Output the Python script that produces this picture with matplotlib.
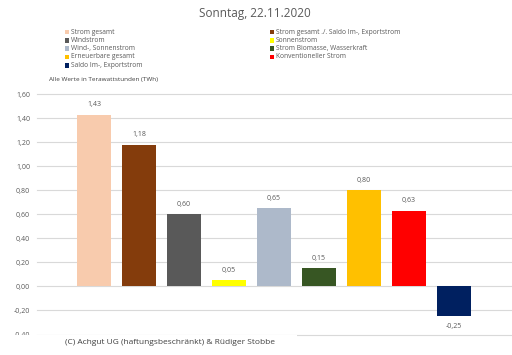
import matplotlib
matplotlib.use("Agg")
import matplotlib.pyplot as plt
from matplotlib.patches import Rectangle

plt.rcParams["font.family"] = ["Open Sans", "DejaVu Sans"]

GREY = "#595959"
GRID = "#D9D9D9"

TITLE = "Sonntag, 22.11.2020"
UNIT_NOTE = "Alle Werte in Terawattstunden (TWh)"
COPYRIGHT = "(C) Achgut UG (haftungsbeschränkt) & Rüdiger Stobbe"

SERIES = [
    "Strom gesamt",
    "Strom gesamt ./. Saldo Im-, Exportstrom",
    "Windstrom",
    "Sonnenstrom",
    "Wind-, Sonnenstrom",
    "Strom Biomasse, Wasserkraft",
    "Erneuerbare gesamt",
    "Konventioneller Strom",
    "Saldo Im-, Exportstrom",
]
VALUES = [1.43, 1.18, 0.60, 0.05, 0.65, 0.15, 0.80, 0.63, -0.25]
COLORS = ["#F8CBAD", "#843C0C", "#595959", "#FFFF00", "#ADB9CA",
          "#375623", "#FFC000", "#FF0000", "#002060"]
Y_TICKS = [-0.4, -0.2, 0.0, 0.2, 0.4, 0.6, 0.8, 1.0, 1.2, 1.4, 1.6]


def fmt(v):
    return f"{v:.2f}".replace(".", ",")


fig = plt.figure(figsize=(5.12, 3.55), dpi=100)
fig.patch.set_facecolor("white")
W, H = 512, 355

ax = fig.add_axes([37 / W, (355 - 334.5) / H, 1 - 37 / W, (334.5 - 94.3) / H])
x = list(range(len(VALUES)))
ax.bar(x, VALUES, width=0.77, color=COLORS, zorder=3)

for xi, v in zip(x, VALUES):
    off = 0.085 if v >= 0 else -0.085
    ax.text(xi, v + off, fmt(v), ha="center", va="center",
            fontsize=5, color=GREY, zorder=4)

ax.set_xlim(-1.267, 9.29)
ax.set_ylim(-0.4, 1.6)
ax.set_yticks(Y_TICKS)
ax.set_yticklabels([fmt(t) for t in Y_TICKS], fontsize=5, color=GREY)
ax.set_xticks([])
ax.tick_params(axis="y", length=0, pad=5)
for t in Y_TICKS:
    ax.axhline(t, color=GRID, linewidth=0.8, zorder=1, clip_on=False)
ax.spines[:].set_visible(False)

fig.text(255 / W, 1 - 13 / H, TITLE, ha="center", va="center",
         fontsize=8.5, color=GREY)

# legend in two columns, row-major like the source chart
for i, (name, col) in enumerate(zip(SERIES, COLORS)):
    row, c = i // 2, i % 2
    lx = 65 if c == 0 else 269.5
    ly = 32 + row * 8.3
    fig.patches.append(Rectangle((lx / W, 1 - (ly + 2.3) / H), 4.3 / W, 4.6 / H,
                                 transform=fig.transFigure, facecolor=col,
                                 edgecolor="none"))
    fig.text((lx + 6) / W, 1 - ly / H, name, ha="left", va="center",
             fontsize=4.8, color=GREY)

fig.text(49 / W, 1 - 80 / H, UNIT_NOTE, ha="left", va="center",
         fontsize=4.6, color="#404040")

# white copyright box covering the lower left (hides part of the -0,40 row)
BOX_TOP = 334.5
box_ax = fig.add_axes([0, 0, 297 / W, (355 - BOX_TOP) / H], zorder=10)
box_ax.set_facecolor("white")
box_ax.set_xticks([])
box_ax.set_yticks([])
box_ax.spines[:].set_visible(False)
box_ax.text(65 / 297, (355 - 342) / (355 - BOX_TOP), COPYRIGHT, ha="left",
            va="center", fontsize=6.0, color="#404040",
            transform=box_ax.transAxes)

fig.savefig("out.png", dpi=100, facecolor="white")
